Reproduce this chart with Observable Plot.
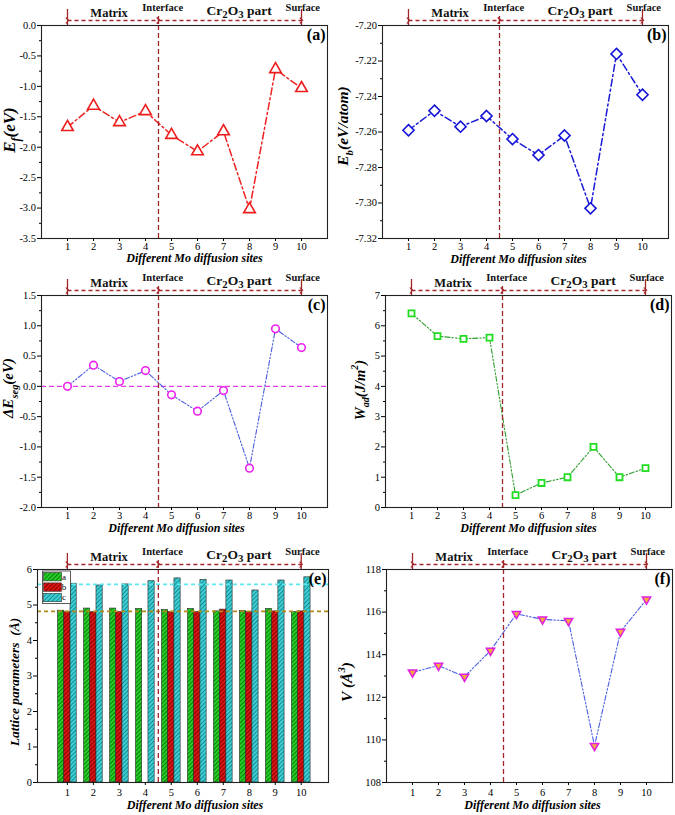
<!DOCTYPE html>
<html><head><meta charset="utf-8">
<script src="https://cdn.jsdelivr.net/npm/d3@7"></script>
<script src="https://cdn.jsdelivr.net/npm/@observablehq/plot@0.6"></script>
<style>
body{margin:0;background:#fff;}
#page{position:relative;width:675px;height:815px;overflow:hidden;background:#fff;}
.panel{position:absolute;}
</style></head><body>
<svg width="0" height="0" style="position:absolute">
<defs>
<pattern id="hatchA" patternUnits="userSpaceOnUse" width="3" height="3" patternTransform="rotate(45)"><rect width="3" height="3" fill="#25cf25"/><line x1="0.5" y1="0" x2="0.5" y2="3" stroke="#0d7d0d" stroke-width="1"/></pattern>
<pattern id="hatchB" patternUnits="userSpaceOnUse" width="3" height="3" patternTransform="rotate(45)"><rect width="3" height="3" fill="#dc1515"/><line x1="0.5" y1="0" x2="0.5" y2="3" stroke="#870000" stroke-width="1"/></pattern>
<pattern id="hatchC" patternUnits="userSpaceOnUse" width="3" height="3" patternTransform="rotate(45)"><rect width="3" height="3" fill="#3fd0d6"/><line x1="0.5" y1="0" x2="0.5" y2="3" stroke="#178c94" stroke-width="1"/></pattern>
</defs></svg>
<div id="page"></div>
<script>
// ---------------- data ----------------
const sites = [1, 2, 3, 4, 5, 6, 7, 8, 9, 10];
const formationEnergy = [-1.67, -1.32, -1.59, -1.41, -1.80, -2.07, -1.74, -3.02, -0.72, -1.03];
const bindingEnergy = [-7.259, -7.248, -7.257, -7.251, -7.264, -7.273, -7.262, -7.303, -7.216, -7.239];
const segregationEnergy = [0.00, 0.35, 0.08, 0.26, -0.14, -0.41, -0.07, -1.35, 0.95, 0.64];
const adhesionWork = [6.41, 5.66, 5.57, 5.61, 0.41, 0.81, 1.00, 2.00, 1.00, 1.30];
const latticeA = [4.84, 4.90, 4.90, 4.89, 4.86, 4.89, 4.82, 4.83, 4.89, 4.80];
const latticeB = [4.80, 4.80, 4.80, null, 4.80, 4.80, 4.87, 4.80, 4.82, 4.82];
const latticeC = [5.60, 5.55, 5.58, 5.67, 5.75, 5.71, 5.69, 5.41, 5.69, 5.78];
const latticeSeries = ["a", "b", "c"];
const latticeRefAB = [4.82];
const latticeRefC = [5.58];
const volume = [113.17, 113.49, 112.97, 114.19, 115.92, 115.66, 115.59, 109.72, 115.08, 116.59];
const interfaceSite = [4.5];
const regionSpans = [[1, 4.5], [4.5, 10]];
const regionEdges = [1, 10];
const regionNames = ["Matrix", "Interface", "Cr2O3 part", "Surface"];
const regionNameX = [2.6, 4.66, 7.6, 10.05];
const xTitle = "Different Mo diffusion sites";

const ticksA = [-3.5, -3.0, -2.5, -2.0, -1.5, -1.0, -0.5, 0.0];
const ticksB = [-7.32, -7.30, -7.28, -7.26, -7.24, -7.22, -7.20];
const ticksC = [-2.0, -1.5, -1.0, -0.5, 0.0, 0.5, 1.0, 1.5];
const ticksD = [0, 1, 2, 3, 4, 5, 6, 7];
const ticksE = [0, 1, 2, 3, 4, 5, 6];
const ticksF = [108, 110, 112, 114, 116, 118];

// ---------------- helpers ----------------
const serif = '"Liberation Serif", "Times New Roman", serif';
const brick = "#a3262a";
const rows = arr => sites.map((s, i) => ({site: s, value: arr[i]})).filter(d => d.value != null);
const minorOf = t => t.slice(1).map((v, i) => (v + t[i]) / 2);
const nameStyle = {
  "Matrix": {up: 13, size: 12.5},
  "Interface": {up: 18, size: 10.5},
  "Cr2O3 part": {up: 15, size: 13.5},
  "Surface": {up: 18, size: 10.5}
};
const downTriangle = {
  draw(context, size) {
    const y = Math.sqrt(size / (3 * Math.sqrt(3)));
    context.moveTo(0, 2 * y);
    context.lineTo(-Math.sqrt(3) * y, -y);
    context.lineTo(Math.sqrt(3) * y, -y);
    context.closePath();
  }
};

function yTitle(svg, x, y, parts, size) {
  const t = d3.select(svg).append("text")
    .attr("transform", `translate(${x},${y}) rotate(-90)`)
    .attr("text-anchor", "middle")
    .attr("font-family", serif).attr("font-size", size)
    .attr("font-weight", "bold").attr("font-style", "italic").attr("fill", "#000");
  let shift = 0;
  for (const p of parts) {
    const s = t.append("tspan").text(p.t);
    const want = p.sub ? size * 0.3 : p.sup ? -size * 0.45 : 0;
    if (want !== shift) s.attr("dy", want - shift);
    shift = want;
    if (p.sub || p.sup) s.attr("font-size", size * 0.7);
  }
}

function fixSubscripts(svg) {
  d3.select(svg).selectAll("text").filter(function () { return this.textContent === "Cr2O3 part"; })
    .each(function () {
      const t = d3.select(this);
      t.text(null);
      t.append("tspan").text("Cr");
      t.append("tspan").attr("dy", "0.3em").attr("font-size", "0.8em").text("2");
      t.append("tspan").attr("dy", "-0.24em").text("O");
      t.append("tspan").attr("dy", "0.3em").attr("font-size", "0.8em").text("3");
      t.append("tspan").attr("dy", "-0.24em").text(" part");
    });
}

function panel(cfg) {
  const [y0, y1] = cfg.y;
  const fh = cfg.height - cfg.mt - cfg.mb;
  const up = px => y1 + (y1 - y0) * px / fh;
  const names = regionNames.map((n, i) => ({name: n, x: regionNameX[i], y: up(nameStyle[n].up), size: nameStyle[n].size}));
  const plot = Plot.plot({
    width: cfg.width, height: cfg.height,
    marginLeft: cfg.ml, marginRight: cfg.mr, marginTop: cfg.mt, marginBottom: cfg.mb,
    x: {domain: cfg.x || [0, 11]},
    y: {domain: cfg.y},
    color: cfg.color,
    style: {fontFamily: serif, fontSize: "10.5px", background: "transparent", overflow: "visible", color: "#000"},
    marks: [
      ...cfg.marks,
      Plot.ruleX(interfaceSite, {stroke: brick, strokeDasharray: "5,3", strokeWidth: 1.3}),
      Plot.link(regionSpans, {x1: d => d[0], x2: d => d[1], y1: up(5), y2: up(5), stroke: brick, strokeWidth: 1.3, strokeDasharray: "4,3", markerStart: "arrow", markerEnd: "arrow"}),
      Plot.ruleX(regionEdges, {y1: up(0), y2: up(16), stroke: brick, strokeWidth: 1.3}),
      Plot.ruleX(interfaceSite, {y1: up(1), y2: up(9), stroke: brick, strokeWidth: 1.3}),
      ...names.map(n => Plot.text([n], {x: "x", y: "y", text: "name", fontSize: n.size, fontWeight: "bold", fill: "#111"})),
      Plot.frame({stroke: "#222", strokeWidth: 1.1}),
      Plot.axisX(sites, {tickSize: 3, tickPadding: cfg.xPad || 1, tickFormat: d => String(d), label: null, fontSize: 10.5}),
      Plot.axisY(cfg.ticks, {tickSize: 4, tickPadding: 1.5, tickFormat: cfg.fmt, label: null, fontSize: 10.5}),
      Plot.axisY(minorOf(cfg.ticks), {tickSize: 2, text: null, label: null}),
      Plot.text([cfg.tag], {text: d => d, frameAnchor: "top-right", dx: -2, dy: 3, lineAnchor: "top", textAnchor: "end", fontSize: 16, fontWeight: "bold"}),
      Plot.text([xTitle], {text: d => d, frameAnchor: "bottom", dx: cfg.xtDx, dy: cfg.xtDy, lineAnchor: "middle", fontSize: 12, fontWeight: "bold", fontStyle: "italic"})
    ]
  });
  fixSubscripts(plot);
  yTitle(plot, cfg.yt[0], cfg.yt[1], cfg.ytParts, cfg.ytSize || 15);
  if (cfg.after) cfg.after(plot);
  const div = document.createElement("div");
  div.className = "panel";
  div.style.left = cfg.left + "px";
  div.style.top = cfg.top + "px";
  div.appendChild(plot);
  document.getElementById("page").appendChild(div);
}

// ---------------- panels ----------------
const dashDot = "7,3,2,3";
const dashDotDot = "5,2,1.5,2,1.5,2";

panel({
  tag: "(a)", left: 0, top: 0, width: 337, height: 268, ml: 41, mr: 10, mt: 25, mb: 30,
  y: [-3.5, 0], ticks: ticksA, fmt: d => d.toFixed(1), xtDx: 10, xtDy: 20,
  yt: [15, 130], ytSize: 17, ytParts: [{t: "E"}, {t: "f", sub: true}, {t: "(eV)"}],
  marks: [
    Plot.line(rows(formationEnergy), {x: "site", y: "value", stroke: "#ee2222", strokeWidth: 1.5, strokeDasharray: dashDot}),
    Plot.dot(rows(formationEnergy), {x: "site", y: "value", symbol: "triangle", r: 4.3, stroke: "#ee1c1c", strokeWidth: 1.6, fill: "white"})
  ]
});

panel({
  tag: "(b)", left: 337, top: 0, width: 338, height: 268, ml: 45, mr: 7, mt: 25, mb: 30,
  y: [-7.32, -7.20], ticks: ticksB, fmt: d => d.toFixed(2), xtDx: -7, xtDy: 21,
  yt: [11, 126], ytSize: 15.5, ytParts: [{t: "E"}, {t: "b", sub: true}, {t: "(eV/atom)"}],
  marks: [
    Plot.line(rows(bindingEnergy), {x: "site", y: "value", stroke: "#1a1ad6", strokeWidth: 1.5, strokeDasharray: dashDot}),
    Plot.dot(rows(bindingEnergy), {x: "site", y: "value", symbol: "diamond2", r: 5, stroke: "#1414d8", strokeWidth: 1.6, fill: "white"})
  ]
});

panel({
  tag: "(c)", left: 0, top: 268, width: 337, height: 270, ml: 41, mr: 10, mt: 27, mb: 31,
  y: [-2.0, 1.5], ticks: ticksC, fmt: d => d.toFixed(1), xtDx: -8, xtDy: 21,
  yt: [13, 120], ytSize: 15, ytParts: [{t: "ΔE"}, {t: "seg", sub: true}, {t: "(eV)"}],
  marks: [
    Plot.ruleY([0], {stroke: "#e040e0", strokeWidth: 1.3, strokeDasharray: "5,3"}),
    Plot.line(rows(segregationEnergy), {x: "site", y: "value", stroke: "#4a5ee0", strokeWidth: 1.1, strokeDasharray: dashDotDot}),
    Plot.dot(rows(segregationEnergy), {x: "site", y: "value", r: 3.8, stroke: "#ee22ee", strokeWidth: 1.6, fill: "white"})
  ]
});

panel({
  tag: "(d)", left: 337, top: 268, width: 338, height: 270, ml: 48, mr: 4, mt: 27, mb: 31,
  y: [0, 7], ticks: ticksD, fmt: d => String(d), xtDx: 0, xtDy: 21,
  yt: [28, 122], ytSize: 14.5, ytParts: [{t: "W"}, {t: "ad", sub: true}, {t: "(J/m"}, {t: "2", sup: true}, {t: ")"}],
  marks: [
    Plot.line(rows(adhesionWork), {x: "site", y: "value", stroke: "#2e9e2e", strokeWidth: 1.1, strokeDasharray: dashDotDot}),
    Plot.dot(rows(adhesionWork), {x: "site", y: "value", symbol: "square", r: 3.4, stroke: "#22dd22", strokeWidth: 1.8, fill: "white"})
  ]
});

const latticeRows = sites.flatMap((s, i) => [
  {site: s, series: "a", value: latticeA[i]},
  {site: s, series: "b", value: latticeB[i]},
  {site: s, series: "c", value: latticeC[i]}
]).filter(d => d.value != null);
const barOffset = {a: -0.24, b: 0, c: 0.24};
const barHalf = 0.12;

panel({
  tag: "(e)", left: 0, top: 538, width: 337, height: 277, ml: 37, mr: 9, mt: 31, mb: 33,
  x: [-0.15, 11.05], y: [0, 6], ticks: ticksE, fmt: d => String(d), xtDx: 12, xtDy: 23, xPad: 3,
  yt: [19, 144], ytSize: 13.5, ytParts: [{t: "Lattice parameters  (Å)"}],
  color: {type: "ordinal", domain: latticeSeries, range: ["url(#hatchA)", "url(#hatchB)", "url(#hatchC)"]},
  marks: [
    Plot.rect(latticeRows, {x1: d => d.site + barOffset[d.series] - barHalf, x2: d => d.site + barOffset[d.series] + barHalf, y1: 0, y2: "value", fill: "series", stroke: "#2a2a2a", strokeWidth: 0.6}),
    Plot.ruleY(latticeRefC, {stroke: "#5ee6ee", strokeWidth: 1.6, strokeDasharray: "4,3"}),
    Plot.ruleY(latticeRefAB, {stroke: "#b08a1a", strokeWidth: 1.6, strokeDasharray: "4,3"})
  ],
  after(svg) {
    const g = d3.select(svg).append("g").attr("font-family", serif).attr("font-size", 9).attr("fill", "#000");
    g.append("rect").attr("x", 42.5).attr("y", 33).attr("width", 28).attr("height", 32.5).attr("fill", "white").attr("stroke", "#333").attr("stroke-width", 0.8);
    latticeSeries.forEach((s, i) => {
      g.append("rect").attr("x", 43.5).attr("y", 34.5 + i * 10.4).attr("width", 18).attr("height", 8.4)
        .attr("fill", `url(#hatch${s.toUpperCase()})`).attr("stroke", "#333").attr("stroke-width", 0.6);
      g.append("text").attr("x", 64).attr("y", 38.8 + i * 10.4).attr("dy", "0.32em").text(s);
    });
  }
});

panel({
  tag: "(f)", left: 337, top: 538, width: 338, height: 277, ml: 49, mr: 3, mt: 31, mb: 33,
  y: [108, 118], ticks: ticksF, fmt: d => String(d), xtDx: 3, xtDy: 23, xPad: 3,
  yt: [15, 144], ytSize: 15.5, ytParts: [{t: "V (Å"}, {t: "3", sup: true}, {t: ")"}],
  marks: [
    Plot.line(rows(volume), {x: "site", y: "value", stroke: "#4a5ee0", strokeWidth: 1.1, strokeDasharray: dashDotDot}),
    Plot.dot(rows(volume), {x: "site", y: "value", symbol: downTriangle, r: 3.1, stroke: "#e020e0", strokeWidth: 1.5, fill: "#f6a83c"})
  ]
});
</script>
</body></html>
